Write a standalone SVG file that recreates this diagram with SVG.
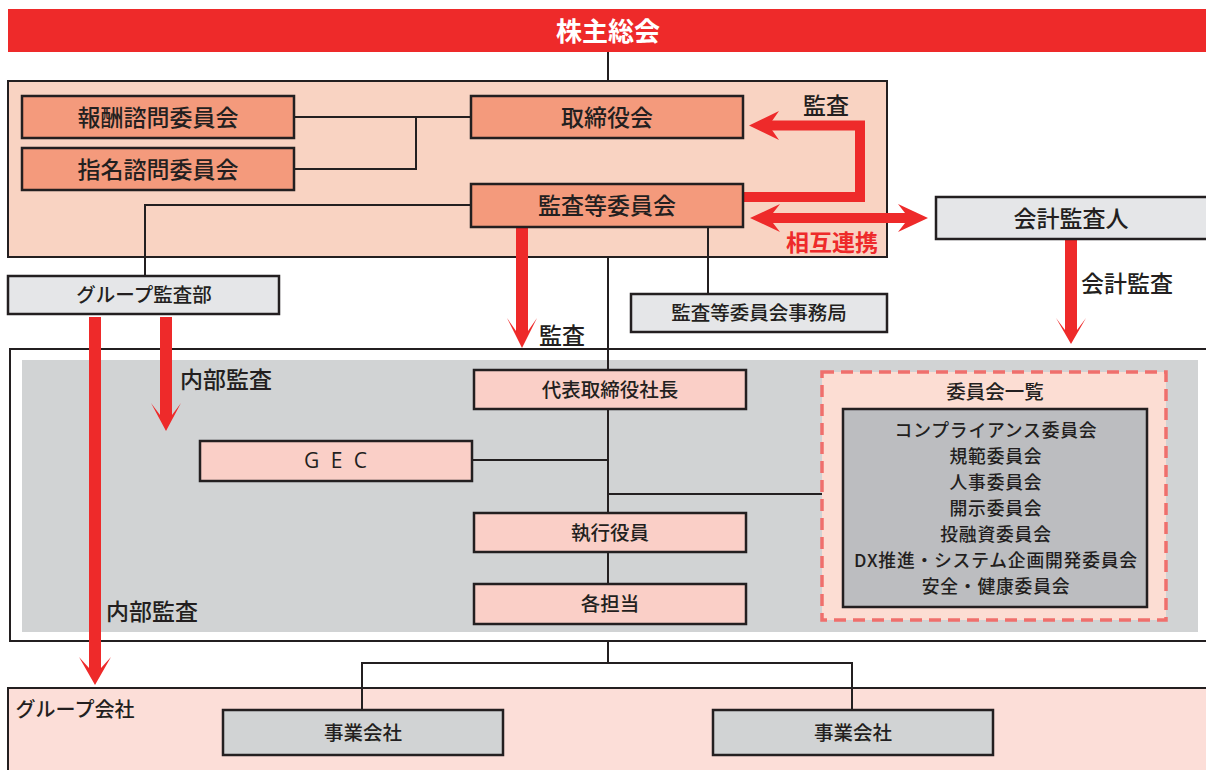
<svg xmlns="http://www.w3.org/2000/svg" width="1206" height="770" viewBox="0 0 1206 770">
<style>
text{font-family:"Noto Sans CJK JP","Noto Sans",sans-serif;fill:#231F20;text-anchor:middle;dominant-baseline:central;font-weight:500;transform:translate(0px,-1.5px)}
.ln{fill:none;stroke:#231F20;stroke-width:2}
.nb{stroke:#231F20;stroke-width:2.5}
.sal{fill:#F49A7C}
.lg{fill:#E5E6E8}
.pk{fill:#FACFC7}
.rf{fill:#EE2A2A}
.rs{fill:none;stroke:#EE2A2A;stroke-width:10}
.t22{font-size:23px}
.t19{font-size:19.5px}
.cl{font-size:17.8px;letter-spacing:0.8px}
.lab{font-size:23px}
</style>
<rect x="8" y="9" width="1198" height="43" class="rf"/>
<text x="608" y="31" style="fill:#fff;font-size:26px;font-weight:700">株主総会</text>

<g id="board-area">
<rect x="8" y="81" width="879" height="176" fill="#F9D3C2" stroke="#231F20" stroke-width="2"/>
</g>
<g id="exec-area">
<rect x="10" y="349" width="1200" height="292" fill="#fff" stroke="#231F20" stroke-width="2"/>
<rect x="22" y="360" width="1176" height="272" fill="#D1D3D4"/>
</g>
<g id="group-area">
<rect x="8" y="688" width="1202" height="90" fill="#FCDED8" stroke="#231F20" stroke-width="2"/>
<text x="75" y="710" style="font-size:20px">グループ会社</text>
</g>

<g id="connectors">
<path class="ln" d="M608 52V81M608 257V370M608 409V584M608 641V663M362 710V663H852V710M294 117H471M294 169H416V117M471 205H145V276M708 227V294M471 460H608M608 494H822"/>
<polyline class="rs" points="743,197 860,197 860,125.5 772,125.5"/>
<path class="rf" d="M749 125.5L779 111L772 121V130L779 140Z"/>
<path class="rf" d="M750 218L780 204L773 213H905L898 204L928 218L898 232L905 223H773L780 232Z"/>
<path class="rf" d="M516 227V331L507 318L522 348L537 318L528 331V227Z"/>
<path class="rf" d="M1065 240V330L1056 318L1071 344L1086 318L1077 330V240Z"/>
<path class="rf" d="M160 317V415L151 403L166 431L181 403L172 415V317Z"/>
<path class="rf" d="M89 317V668L79 657L95 685L111 657L101 668V317Z"/>
<text x="826" y="105" class="lab">監査</text>
<text x="832" y="242" class="lab" style="fill:#EE2A2A;font-weight:700">相互連携</text>
<text x="562" y="335" class="lab">監査</text>
<text x="1127" y="283" class="lab">会計監査</text>
<text x="226" y="379" class="lab">内部監査</text>
<text x="152" y="611" class="lab">内部監査</text>
</g>

<g id="n-houshu"><rect x="22" y="96" width="272" height="42" class="nb sal"/><text x="158" y="117" class="t22">報酬諮問委員会</text></g>
<g id="n-shimei"><rect x="22" y="148" width="272" height="42" class="nb sal"/><text x="158" y="169" class="t22">指名諮問委員会</text></g>
<g id="n-torishimariyaku"><rect x="471" y="96" width="272" height="42" class="nb sal"/><text x="607" y="117" class="t22">取締役会</text></g>
<g id="n-kansatou"><rect x="471" y="184" width="272" height="43" class="nb sal"/><text x="607" y="205" class="t22">監査等委員会</text></g>
<g id="n-kaikei"><rect x="936" y="197" width="274" height="42" class="nb lg"/><text x="1071" y="218" class="t22">会計監査人</text></g>
<g id="n-jimukyoku"><rect x="631" y="294" width="256" height="38" class="nb lg"/><text x="759" y="313" class="t19">監査等委員会事務局</text></g>
<g id="n-group-kansa"><rect x="8" y="276" width="271" height="38" class="nb lg"/><text x="144" y="295" class="t19">グループ監査部</text></g>
<g id="n-shacho"><rect x="474" y="370" width="272" height="39" class="nb pk"/><text x="610" y="390" class="t19">代表取締役社長</text></g>
<g id="n-gec"><rect x="200" y="441" width="272" height="40" class="nb pk"/><text x="337" y="461" style="font-family:'Open Sans','Noto Sans',sans-serif;font-size:21px;letter-spacing:3px;font-weight:400">G E C</text></g>
<g id="n-shikkou"><rect x="474" y="513" width="272" height="39" class="nb pk"/><text x="610" y="533" class="t19">執行役員</text></g>
<g id="n-kakutantou"><rect x="474" y="584" width="272" height="40" class="nb pk"/><text x="610" y="604" class="t19">各担当</text></g>
<g id="n-iinkai">
<rect x="822" y="372" width="344" height="248" fill="#FCDDD3" stroke="#EF6F6C" stroke-width="3.5" stroke-dasharray="12,7"/>
<text x="995" y="392" class="t19">委員会一覧</text>
<rect x="843" y="409" width="304" height="198" fill="#BCBDC0" stroke="#231F20" stroke-width="2.5"/>
<text x="996" y="430" class="cl">コンプライアンス委員会</text>
<text x="996" y="456" class="cl">規範委員会</text>
<text x="996" y="482" class="cl">人事委員会</text>
<text x="996" y="508" class="cl">開示委員会</text>
<text x="996" y="534" class="cl">投融資委員会</text>
<text x="996" y="560" class="cl">DX推進・システム企画開発委員会</text>
<text x="996" y="586" class="cl">安全・健康委員会</text>
</g>
<g id="n-jigyou1"><rect x="223" y="710" width="280" height="45" fill="#D1D3D4" class="nb"/><text x="363" y="733" class="t19">事業会社</text></g>
<g id="n-jigyou2"><rect x="713" y="710" width="280" height="45" fill="#D1D3D4" class="nb"/><text x="853" y="733" class="t19">事業会社</text></g>
</svg>
